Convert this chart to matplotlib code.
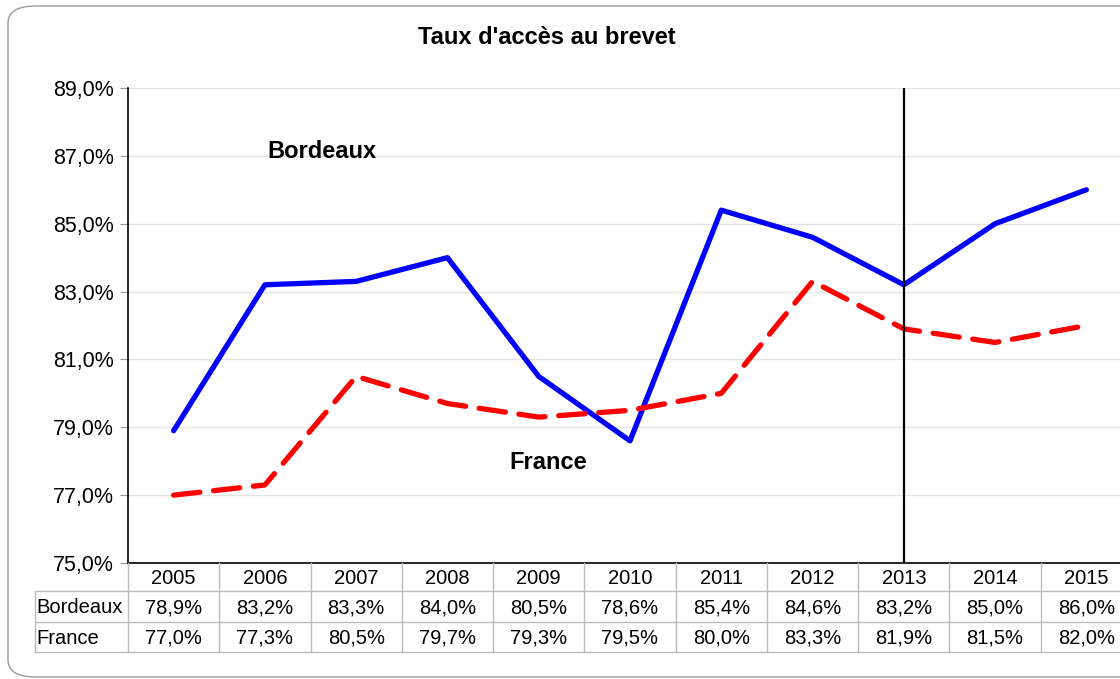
import matplotlib.pyplot as plt
from matplotlib.patches import FancyBboxPatch
from matplotlib.lines import Line2D

plt.rcParams['font.family'] = ['Liberation Sans', 'DejaVu Sans']

years = ['2005', '2006', '2007', '2008', '2009', '2010', '2011', '2012', '2013', '2014', '2015']
bordeaux = [78.9, 83.2, 83.3, 84.0, 80.5, 78.6, 85.4, 84.6, 83.2, 85.0, 86.0]
france = [77.0, 77.3, 80.5, 79.7, 79.3, 79.5, 80.0, 83.3, 81.9, 81.5, 82.0]
yticks = [75, 77, 79, 81, 83, 85, 87, 89]
marker_year = '2013'

W, H = 1120, 679
fig = plt.figure(figsize=(W / 100, H / 100), dpi=100)

def fx(px):
    return px / W

def fy(py):
    return 1 - py / H

# rounded frame
frame = FancyBboxPatch((fx(8), fy(677)), fx(1180) - fx(8), fy(6) - fy(677),
                       boxstyle="round,pad=0,rounding_size=0.025",
                       transform=fig.transFigure, fill=False,
                       edgecolor='#999999', linewidth=1.0)
fig.patches.append(frame)

left, right, top, bottom = 128, 1132, 88, 563
col_w = (right - left) / len(years)
ax = fig.add_axes([fx(left), fy(bottom), fx(right) - fx(left), fy(top) - fy(bottom)])

x = list(range(len(years)))
ax.plot(x, bordeaux, color='#0000ff', lw=3.8, solid_capstyle='round', solid_joinstyle='round')
ax.plot(x, france, color='#ff0000', lw=3.8, linestyle=(0, (5, 2.6)),
        dash_capstyle='round', dash_joinstyle='round')
ax.axvline(years.index(marker_year), color='black', lw=1.6)

ax.set_xlim(-0.5, len(years) - 0.5)
ax.set_ylim(75, 89)
ax.set_yticks(yticks)
ax.set_yticklabels([f"{v:.1f}%".replace('.', ',') for v in yticks], fontsize=15.5)
ax.set_xticks([])
ax.grid(axis='y', color='#e3e3e3', lw=1)
ax.set_axisbelow(True)
ax.tick_params(axis='y', length=6, color='#999999', pad=4)
for s in ['top', 'right']:
    ax.spines[s].set_visible(False)
ax.spines['left'].set_linewidth(1.2)
ax.spines['bottom'].set_linewidth(1.2)

ax.text(1.62, 87.14, 'Bordeaux', fontsize=17, fontweight='bold', ha='center', va='center')
ax.text(4.1, 77.95, 'France', fontsize=17, fontweight='bold', ha='center', va='center')

fig.text(fx(547), fy(37), "Taux d'accès au brevet", fontsize=17, fontweight='bold',
         ha='center', va='center')

# data table under the chart
rows = [('Bordeaux', bordeaux), ('France', france)]
row_y = [563, 591, 622, 652]
grid_c = '#bbbbbb'
label_left = 35
tsize = 14.5

def hline(y, x0, x1):
    fig.add_artist(Line2D([fx(x0), fx(x1)], [fy(y), fy(y)], color=grid_c, lw=1))

def vline(xp, y0, y1):
    fig.add_artist(Line2D([fx(xp), fx(xp)], [fy(y0), fy(y1)], color=grid_c, lw=1))

hline(row_y[1], label_left, right)
hline(row_y[2], label_left, right)
hline(row_y[3], label_left, right)
vline(label_left, row_y[1], row_y[3])
for i in range(len(years) + 1):
    vline(left + i * col_w, row_y[0], row_y[3])

for i, yr in enumerate(years):
    cx = left + (i + 0.5) * col_w
    fig.text(fx(cx), fy((row_y[0] + row_y[1]) / 2 + 1), yr, fontsize=tsize, ha='center', va='center')
    for r, (name, vals) in enumerate(rows):
        cy = (row_y[r + 1] + row_y[r + 2]) / 2 + 1
        fig.text(fx(cx), fy(cy), f"{vals[i]:.1f}%".replace('.', ','), fontsize=tsize,
                 ha='center', va='center')

for r, (name, vals) in enumerate(rows):
    cy = (row_y[r + 1] + row_y[r + 2]) / 2 + 1
    fig.text(fx(label_left + 1), fy(cy), name, fontsize=tsize, ha='left', va='center')

fig.savefig('out.png', dpi=100)
